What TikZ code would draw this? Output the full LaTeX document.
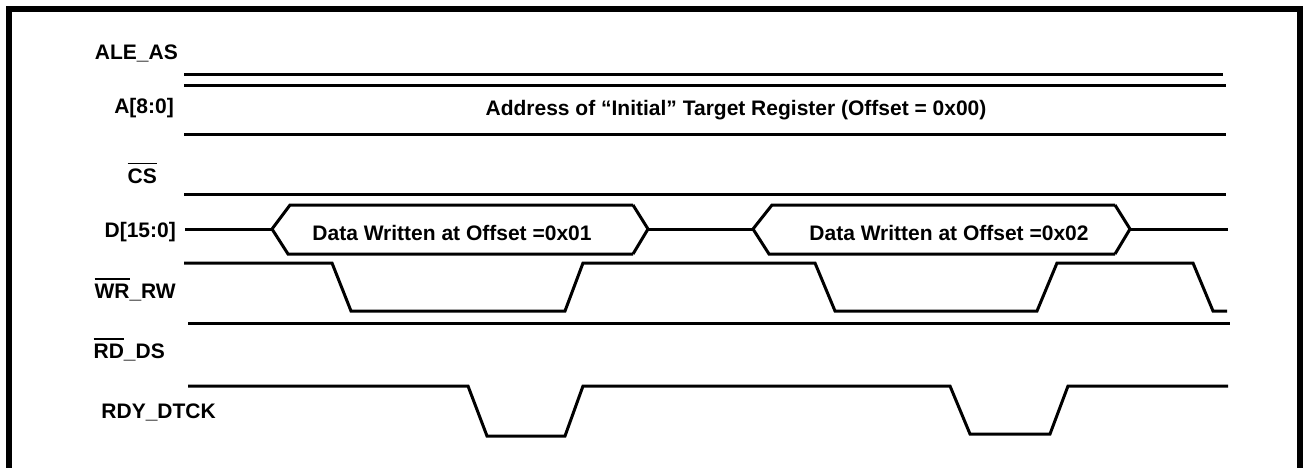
\documentclass[tikz,border=0pt]{standalone}
\usepackage{fontspec}
\setmainfont{Liberation Sans}
\newcommand\sigbar[1]{\setbox0\hbox{#1}\rlap{\raisebox{\dimexpr\ht0+4.5pt\relax}{\rule{\wd0}{1.6pt}}}\box0}
\begin{document}
\begin{tikzpicture}[x=1pt,y=-1pt,
  sig/.style={line width=3pt,line join=miter},
  lbl/.style={font=\fontsize{21}{24}\selectfont\bfseries,inner sep=0pt},
  frame/.style={line width=6.5pt}]
\useasboundingbox (0,0) rectangle (1304,468);
\clip (0,0) rectangle (1304,468);
% frame
\draw[frame] (9,480) -- (9,9) -- (1300,9) -- (1300,480);
% labels
\node[lbl,anchor=east] (lale) at (178,53) {ALE\_AS};
\node[lbl,anchor=east] (la) at (174,108) {A[8:0]};
\node[lbl,anchor=east] (lcs) at (157,173) {\sigbar{CS}};
\node[lbl,anchor=east] (ld) at (176,232) {D[15:0]};
\node[lbl,anchor=east] (lwr) at (176,290) {\sigbar{WR}\_RW};
\node[lbl,anchor=east] (lrd) at (165,350) {\sigbar{RD}\_DS};
\node[lbl,anchor=east] (lrdy) at (216,412) {RDY\_DTCK};
% ALE_AS
\draw[sig] (184,75) -- (1223,75);
% A[8:0]
\draw[sig] (184,86) -- (1226,86);
\draw[sig] (184,135) -- (1226,135);
\node[lbl] (addr) at (736,110) {Address of “Initial” Target Register (Offset = 0x00)};
% CS
\draw[sig] (184,194) -- (1226,194);
% D[15:0]
\draw[sig] (185,229) -- (272,229);
\draw[sig] (633,205) -- (290,205) -- (272,229) -- (288,254) -- (633,254);
\draw[sig] (633,205) -- (648,229) -- (633,254);
\draw[sig] (648,229) -- (753,229);
\draw[sig] (1115,205) -- (772,205) -- (753,229) -- (769,254) -- (1115,254);
\draw[sig] (1115,205) -- (1130,229) -- (1115,254);
\draw[sig] (1130,229) -- (1228,229);
\node[lbl] (d1) at (452,233) {Data Written at Offset =0x01};
\node[lbl] (d2) at (949,233) {Data Written at Offset =0x02};
% WR_RW
\draw[sig] (184,263) -- (332,263) -- (351,311) -- (565,311) -- (583,263)
  -- (815,263) -- (835,311) -- (1037,311) -- (1057,263) -- (1193,263)
  -- (1213,311) -- (1227,311);
% RD_DS
\draw[sig] (188,323) -- (1230,323);
% RDY_DTCK
\draw[sig] (188,386) -- (468,386) -- (487,436) -- (565,436) -- (583,386)
  -- (950,386) -- (970,434) -- (1050,434) -- (1068,386) -- (1228,386);
\end{tikzpicture}
\end{document}
